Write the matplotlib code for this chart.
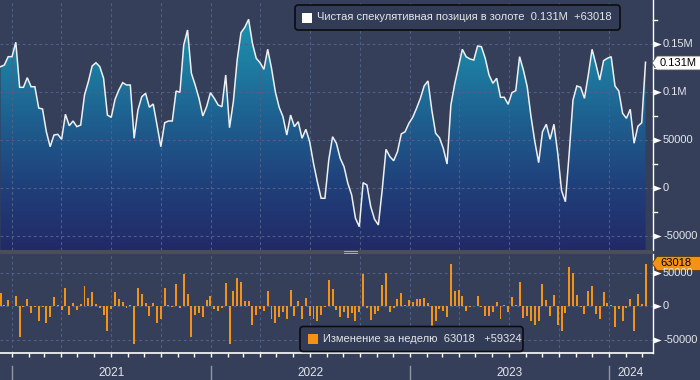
import datetime as dt
import numpy as np
import matplotlib
matplotlib.use("Agg")
import matplotlib.pyplot as plt
import matplotlib.dates as mdates
from matplotlib.colors import LinearSegmentedColormap
from matplotlib.patches import FancyBboxPatch, Rectangle, Polygon
from matplotlib.lines import Line2D
from matplotlib.transforms import Affine2D, blended_transform_factory

# ---------------- data ----------------
first_week = dt.date(2020, 12, 11)   # weekly (Friday) observations

net_position = [
    126400, 128100, 136800, 136800, 151800, 104900, 104900, 114900, 105500, 105500,
    83300, 82300, 58600, 43000, 55200, 55900, 50700, 76800, 64900, 69800,
    63900, 65600, 96900, 110700, 127100, 130500, 126400, 114300, 76000, 73600,
    92400, 102100, 109700, 107300, 107300, 51800, 81300, 95100, 98600, 84100,
    87500, 65600, 43000, 68000, 69800, 69800, 101000, 99700, 149000, 164600,
    119500, 107300, 93400, 75000, 84700, 99300, 93400, 86500, 84700, 117700,
    62800, 90000, 133300, 161800, 167400, 175700, 150700, 135100, 130500, 123600,
    144500, 124700, 100300, 84100, 74300, 55200, 76000, 63900, 69100, 51800,
    61100, 48200, 25700, 6600, -10700, -10700, 29200, 53400, 46600, 30900,
    22200, 4900, -7300, -31600, -40300, 5500, 3100, -19500, -32600, -38500,
    -2100, 40300, 32800, 28400, 37800, 56300, 58600, 67400, 73600, 83000,
    93400, 106300, 111500, 81300, 57000, 52400, 41400, 25000, 86500, 108300,
    126400, 144500, 136800, 134400, 133300, 147900, 147200, 135100, 117700, 109100,
    114300, 94500, 94500, 87200, 99300, 101400, 136800, 122900, 105500, 74300,
    48200, 26400, 58600, 66400, 50700, 66400, 36100, -2800, -14300, 36100,
    91700, 106300, 104900, 93400, 117700, 144500, 128900, 112500, 132600, 135100,
    136800, 106300, 101000, 77800, 72600, 82000, 46600, 64306, 68000, 131018,
]

weekly_change = [
    19000, 1500, 9000, -500, 15000, -47000, -1000, 10000, -10000, -1000,
    -22000, -1000, -25000, -16000, 13000, 1500, -5500, 27000, -13000, 4500,
    -6000, 3000, 30000, 12000, 21000, 3000, -2500, -13000, -38000, -4000,
    21000, 10000, 6000, -2500, 1500, -56000, 27000, 18000, 5000, -15000,
    4500, -26000, -19000, 27000, 1500, -1000, 33000, -2500, 48000, 18000,
    -46000, -13000, -11000, -17000, 9000, 15000, -4000, -7000, -2500, 34000,
    -56000, 22000, 42000, 36000, 7500, 7500, -28000, -13000, -4000, -7000,
    22000, -19000, -25000, -16000, -8500, -19000, 24000, -15000, 7500, -20000,
    12000, -15000, -20000, -23000, -13000, -1000, 39000, 25000, -6000, -16000,
    -9500, -18000, -11000, -23000, -8500, 48000, -3500, -21000, -12500, -7500,
    31000, 49000, -8500, -3500, 10000, 19000, 1500, 9500, 5500, 10000,
    10000, 12500, 5000, -32000, -22000, -4500, -8000, -16000, 63000, 23000,
    24000, 15000, -7000, -2000, -500, 15000, -1000, -15000, -15000, -8500,
    6000, -20000, 1000, -8500, 13000, 1000, 36000, -18000, -15000, -23000,
    -29000, -22000, 33000, 9000, -15000, 16000, -28000, -38000, -10000, 58000,
    50000, 16000, -1000, -12500, 22000, 30000, -12000, -20000, 21000, 5000,
    1500, -31000, -5000, -23000, -3500, 11000, -37000, 18000, 3694, 63018,
]

top_ticks = [150000, 100000, 50000, 0, -50000]
top_tick_labels = ["0.15M", "0.1M", "50000", "0", "-50000"]
top_minor = [175000, 125000, 75000, 25000, -25000]
bot_ticks = [50000, 0, -50000]
bot_tick_labels = ["50000", "0", "-50000"]
years = [2021, 2022, 2023, 2024]

legend_top = "Чистая спекулятивная позиция в золоте  0.131M  +63018"
legend_bot = "Изменение за неделю  63018   +59324"
last_top_tag = "0.131M"
last_bot_tag = "63018"

# ---------------- style ----------------
W, H = 700, 380
BG = "#353f5a"
GRID = "#4e6088"
TXT = "#e4e6ea"
ORANGE = "#f39214"
plt.rcParams["font.family"] = ["Liberation Sans", "DejaVu Sans"]

dates = [first_week + dt.timedelta(weeks=i) for i in range(len(net_position))]
xs = mdates.date2num(dates)
vals = np.array(net_position, dtype=float)
chg = np.array(weekly_change, dtype=float)

fig = plt.figure(figsize=(W / 100, H / 100), dpi=100, facecolor=BG)


def fx(px):
    return px / W


def fy(py):
    return 1 - py / H


# pixel transform (origin top-left)
PX = Affine2D().scale(1 / W, -1 / H).translate(0, 1) + fig.transFigure

ax1 = fig.add_axes([0, fy(250), fx(653), 250 / H])
ax2 = fig.add_axes([0, fy(353), fx(653), (353 - 254) / H])

origin = mdates.date2num(dt.date(2021, 1, 1))
ppd = 0.5452  # pixels per day
xlim = (origin - 12 / ppd, origin + 641 / ppd)

ylim1 = (-64583, 195833)
ylim2 = (-70149, 77612)

quarters = [mdates.date2num(dt.date(y, m, 1)) for y in range(2021, 2025) for m in (1, 4, 7, 10)]
quarters = [q for q in quarters if xlim[0] < q < xlim[1]]
months = [mdates.date2num(dt.date(y, m, 1)) for y in range(2020, 2025) for m in range(1, 13)]
months = [m for m in months if xlim[0] < m < xlim[1]]

for ax, yl in ((ax1, ylim1), (ax2, ylim2)):
    ax.set_facecolor(BG)
    ax.set_xlim(*xlim)
    ax.set_ylim(*yl)
    for s in ("left", "top"):
        ax.spines[s].set_visible(False)
    ax.spines["right"].set_color("white")
    ax.spines["right"].set_linewidth(1.0)
    ax.set_yticks([])
    for q in quarters:
        ax.axvline(q, color=GRID, lw=0.8, ls=(0, (2.5, 2.5)), zorder=2)

ax1.spines["bottom"].set_visible(False)
ax1.set_xticks([])
ax2.spines["bottom"].set_color("white")
ax2.spines["bottom"].set_linewidth(1.2)
ax2.set_xticks(months)
ax2.tick_params(axis="x", length=3, width=1, color="white", labelbottom=False, direction="out")

for t in top_ticks:
    ax1.axhline(t, color=GRID, lw=0.8, ls=(0, (2.5, 2.5)), zorder=2)
for t in bot_ticks:
    ax2.axhline(t, color=GRID, lw=0.8, ls=(0, (2.5, 2.5)), zorder=1)

# gradient area
cmap = LinearSegmentedColormap.from_list(
    "bbg", ["#222a66", "#203f7a", "#1e5d8d", "#1d7ea2", "#1f9ab3"])
grad = np.linspace(0, 1, 256).reshape(-1, 1)
im = ax1.imshow(grad, extent=[xlim[0], xlim[1], ylim1[0], ylim1[1]], origin="lower",
                aspect="auto", cmap=cmap, zorder=1, interpolation="bilinear")
poly_xy = np.column_stack([np.r_[xs[0], xs, xs[-1]], np.r_[ylim1[0], vals, ylim1[0]]])
clip = Polygon(poly_xy, closed=True, transform=ax1.transData, facecolor="none", edgecolor="none")
ax1.add_patch(clip)
im.set_clip_path(clip)
ax1.plot(xs, vals, color="#eef0f4", lw=1.1, zorder=4, solid_joinstyle="miter")

# bars
ax2.bar(xs, chg, width=3.6, color=ORANGE, zorder=3, linewidth=0)

# right-hand tick labels
tri = [(-1, -0.75), (1, 0), (-1, 0.75)]
for ax, ticks, labels in ((ax1, top_ticks, top_tick_labels), (ax2, bot_ticks, bot_tick_labels)):
    bt = blended_transform_factory(fig.transFigure, ax.transData)
    for t, lab in zip(ticks, labels):
        fig.add_artist(Line2D([fx(657)], [t], marker=tri, markersize=6, color="white",
                              markeredgewidth=0, transform=bt))
        fig.text(fx(663), t, lab, transform=bt, va="center", ha="left", fontsize=8, color=TXT)
bt1 = blended_transform_factory(fig.transFigure, ax1.transData)
for t in top_minor:
    fig.add_artist(Line2D([fx(653), fx(657)], [t, t], color="white", lw=1, transform=bt1))

# separator band between panels
fig.add_artist(Rectangle((0, 250), 653, 3.6, transform=PX, facecolor="#4b4e57", edgecolor="none"))
for yy in (251.0, 252.6):
    fig.add_artist(Line2D([344, 357], [yy, yy], color="#b8bcc4", lw=0.6, transform=PX))

# year labels and separators
for y in years:
    x0 = 12 + (mdates.date2num(dt.date(y, 1, 1)) - origin) * ppd
    x1 = min(12 + (mdates.date2num(dt.date(y + 1, 1, 1)) - origin) * ppd, 653)
    fig.add_artist(Line2D([x0, x0], [366, 380], color="#9097a6", lw=1, transform=PX))
    fig.text(fx((x0 + x1) / 2), fy(373), str(y), ha="center", va="center", fontsize=8.5, color=TXT)

# legends
fig.add_artist(FancyBboxPatch((295, 5), 325, 25, boxstyle="round,pad=0,rounding_size=3",
                              transform=PX, facecolor="#323c56", edgecolor="#0c0c10", lw=1.2))
fig.add_artist(Rectangle((302, 12.5), 10, 10, transform=PX, facecolor="white", edgecolor="none"))
fig.text(fx(317), fy(17.5), legend_top, ha="left", va="center", fontsize=8, color=TXT)

fig.add_artist(FancyBboxPatch((300, 326.5), 223, 25, boxstyle="round,pad=0,rounding_size=3",
                              transform=PX, facecolor="#323c56", edgecolor="#0c0c10", lw=1.2))
fig.add_artist(Rectangle((308, 334), 10, 10, transform=PX, facecolor=ORANGE, edgecolor="none"))
fig.text(fx(323), fy(339), legend_bot, ha="left", va="center", fontsize=8, color=TXT)

# last value tags
fig.add_artist(Polygon([(652, 63), (657, 56), (701, 56), (701, 70), (657, 70)], closed=True,
                       transform=PX, facecolor="white", edgecolor="#555", lw=0.6))
fig.text(fx(660), fy(63), last_top_tag, ha="left", va="center", fontsize=8, color="black")
fig.add_artist(Polygon([(652, 263.5), (657, 256.5), (701, 256.5), (701, 270.5), (657, 270.5)],
                       closed=True, transform=PX, facecolor=ORANGE, edgecolor="#5a3a00", lw=0.6))
fig.text(fx(660), fy(263.5), last_bot_tag, ha="left", va="center", fontsize=8, color="black")

fig.savefig("out.png", dpi=100, facecolor=BG)
